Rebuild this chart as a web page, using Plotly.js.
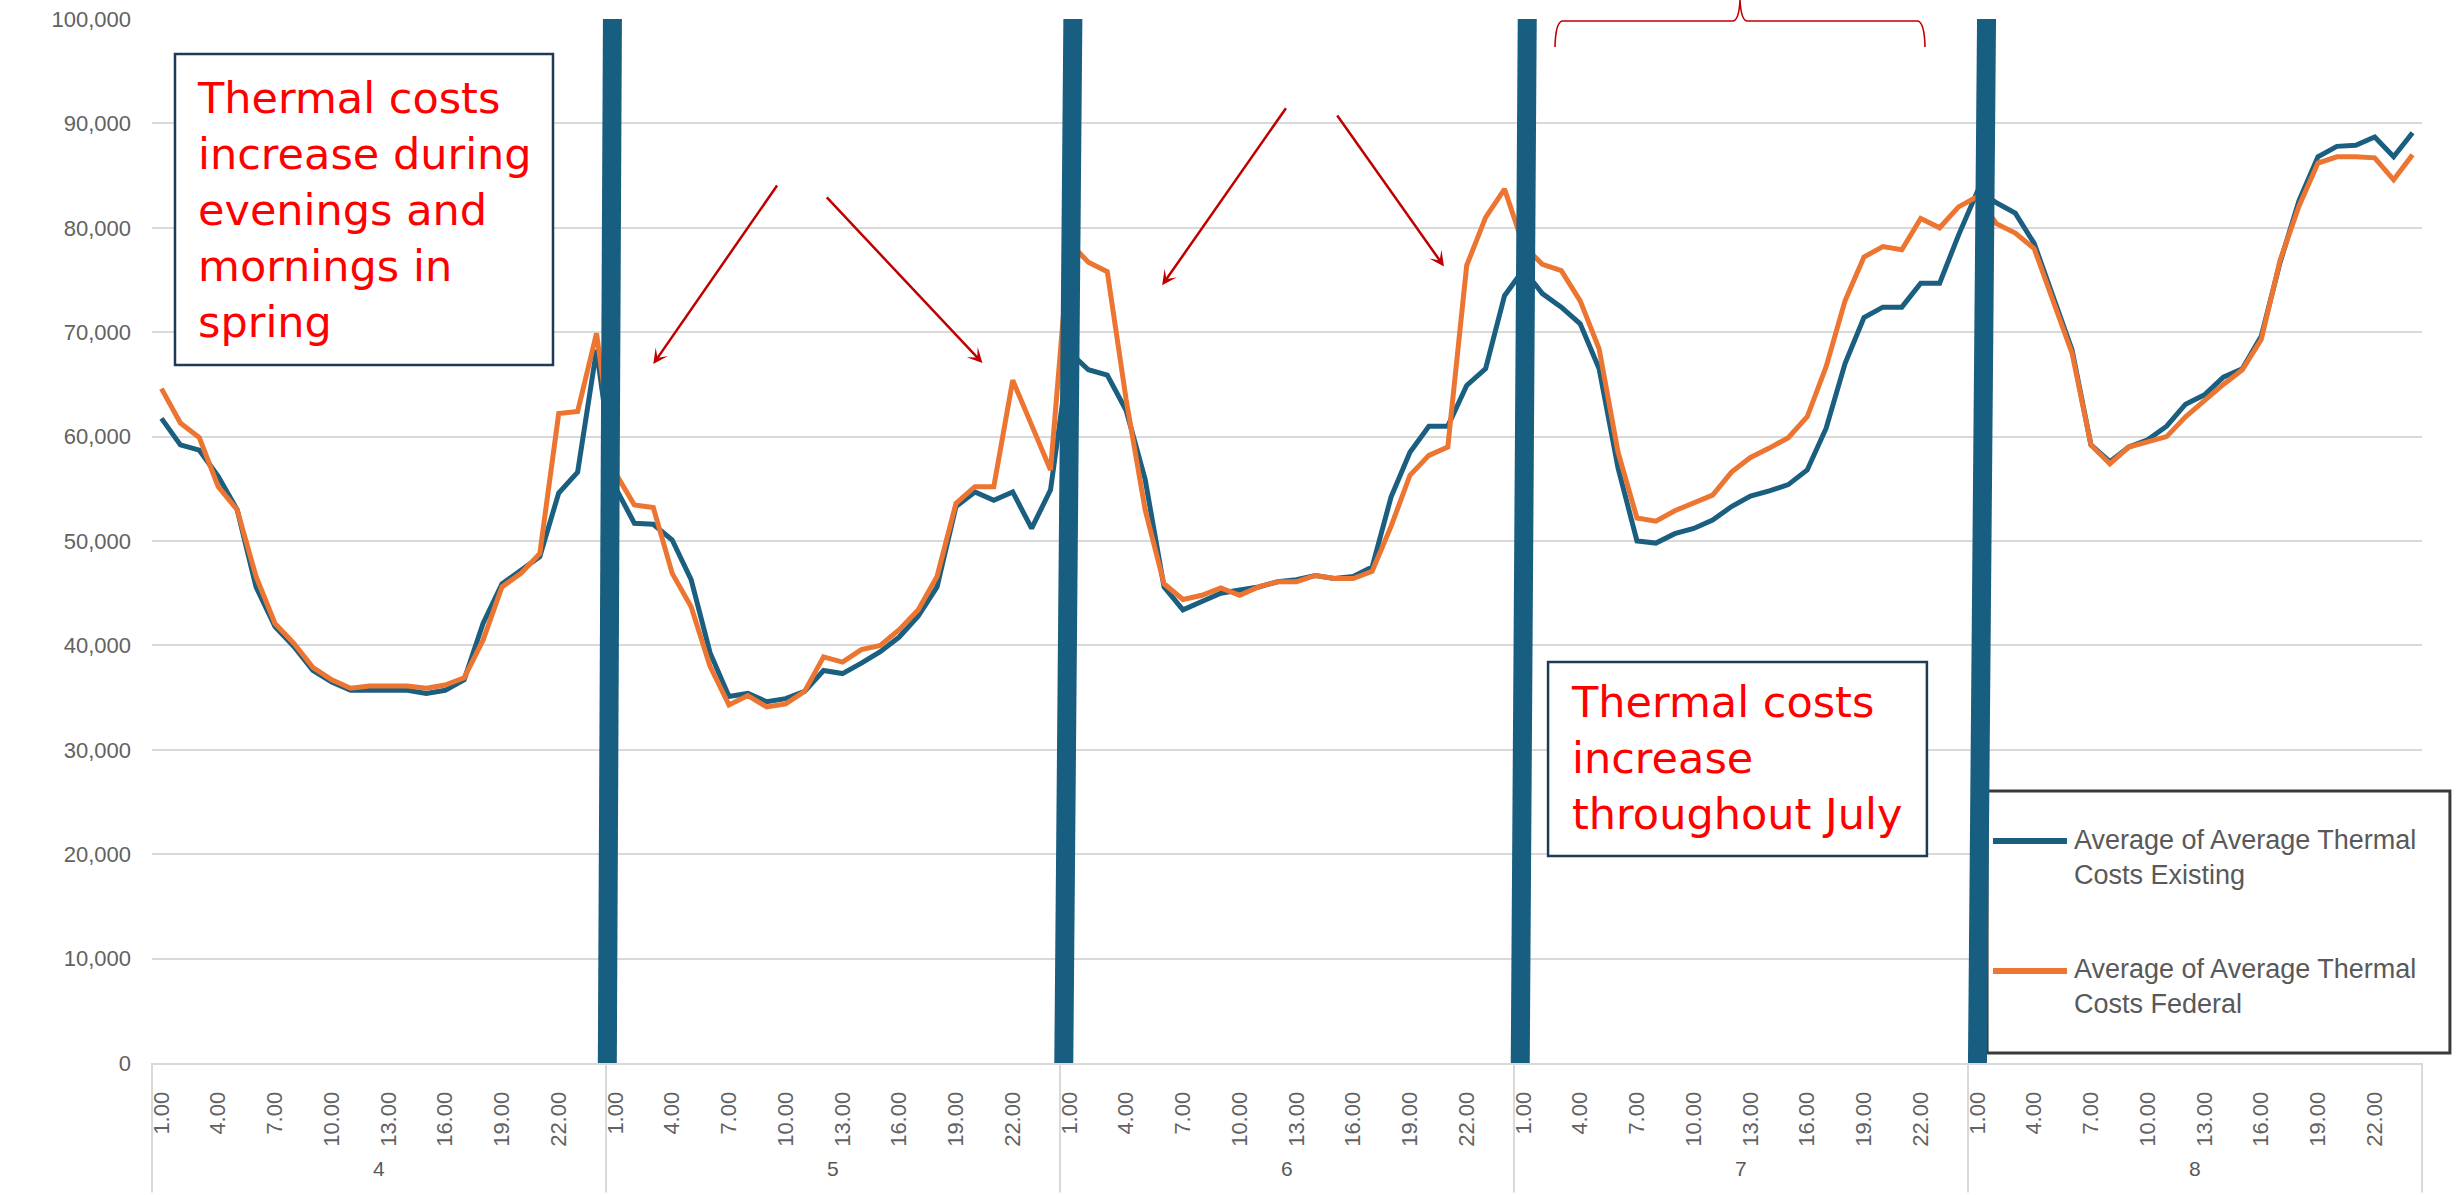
<!DOCTYPE html>
<html>
<head>
<meta charset="utf-8">
<script src="https://cdn.plot.ly/plotly-3.0.1.min.js"></script>
<style>
  html, body { margin: 0; padding: 0; background: #ffffff; }
  #chart { width: 2458px; height: 1195px; }
</style>
</head>
<body>
<div id="chart"></div>
<script>
// Outer level of the category axis (month) and inner level (hour of day)
const months = ['4', '5', '6', '7', '8'];
const hours = ['1.00', '2.00', '3.00', '4.00', '5.00', '6.00', '7.00', '8.00',
  '9.00', '10.00', '11.00', '12.00', '13.00', '14.00', '15.00', '16.00',
  '17.00', '18.00', '19.00', '20.00', '21.00', '22.00', '23.00', '24.00'];
const labelledHours = ['1.00', '4.00', '7.00', '10.00', '13.00', '16.00', '19.00', '22.00'];

// Average of Average Thermal Costs Existing, by month
const existing4 = [61750, 59200, 58700, 56200, 53000, 45600, 41800, 39900, 37600, 36500, 35700, 35700,
  35700, 35700, 35400, 35700, 36700, 42100, 45900, 47200, 48500, 54600, 56600, 68300];
const existing5 = [55100, 51700, 51600, 50100, 46300, 39300, 35100, 35400, 34600, 34900, 35600, 37600,
  37300, 38300, 39400, 40800, 42800, 45600, 53300, 54700, 53900, 54700, 51200, 54900];
const existing6 = [68100, 66400, 65900, 62500, 55900, 45600, 43400, 44200, 45000, 45300, 45600, 46100,
  46300, 46700, 46400, 46600, 47500, 54200, 58500, 61000, 61000, 64900, 66500, 73500];
const existing7 = [76000, 73700, 72400, 70800, 66500, 57000, 50000, 49800, 50700, 51200, 52000, 53300,
  54300, 54800, 55400, 56800, 60800, 67000, 71400, 72400, 72400, 74700, 74700, 79300];
const existing8 = [83500, 82400, 81400, 78500, 73400, 68300, 59200, 57600, 59000, 59700, 61000, 63100,
  64000, 65700, 66500, 69600, 76700, 82600, 86800, 87800, 87900, 88700, 86800, 89100];

// Average of Average Thermal Costs Federal, by month
const federal4 = [64600, 61300, 59900, 55200, 53000, 46600, 42100, 40200, 37900, 36700, 35900, 36100,
  36100, 36100, 35900, 36200, 36900, 40500, 45600, 46900, 48800, 62200, 62400, 69900];
const federal5 = [56500, 53450, 53200, 46900, 43700, 38000, 34300, 35200, 34100, 34400, 35600, 38900,
  38400, 39600, 40000, 41500, 43400, 46600, 53600, 55200, 55200, 65400, 61100, 56800];
const federal6 = [78600, 76700, 75800, 63500, 53000, 45900, 44400, 44800, 45500, 44800, 45600, 46100,
  46100, 46700, 46400, 46400, 47100, 51400, 56300, 58200, 59000, 76400, 81000, 83700];
const federal7 = [78300, 76500, 75900, 73000, 68400, 58500, 52200, 51900, 52900, 53600, 54400, 56600,
  58000, 58900, 59900, 61900, 66700, 73000, 77200, 78200, 77900, 80900, 80000, 82000];
const federal8 = [83000, 80400, 79500, 78000, 73100, 68000, 59200, 57400, 59000, 59500, 60000, 61900,
  63500, 65000, 66400, 69300, 76900, 82100, 86200, 86800, 86800, 86700, 84600, 87000];

const seriesNames = ['Average of Average Thermal Costs Existing', 'Average of Average Thermal Costs Federal'];
const seriesColors = ['#1a5e80', '#ec7532'];
const dividerColor = '#185e80';

const existingByMonth = [existing4, existing5, existing6, existing7, existing8];
const federalByMonth = [federal4, federal5, federal6, federal7, federal8];

// Category keys "month|hour" in chart order
const xCats = [];
months.forEach(m => hours.forEach(h => xCats.push(m + '|' + h)));
const existingAll = [].concat(...existingByMonth);
const federalAll = [].concat(...federalByMonth);

const tickvals = [];
const ticktext = [];
months.forEach(m => labelledHours.forEach(h => { tickvals.push(m + '|' + h); ticktext.push(h); }));

const axisFont = { family: 'Liberation Sans, Arial, sans-serif', size: 22, color: '#626262' };
const monthFont = { family: 'Liberation Sans, Arial, sans-serif', size: 21, color: '#595959' };
const noteFont = { family: 'DejaVu Sans, Verdana, sans-serif', size: 43, color: '#ff0000' };
const legendFont = { family: 'Liberation Sans Narrow, Liberation Sans, Arial, sans-serif', size: 27, color: '#595959' };
const arrowRed = '#c00000';

const traces = [
  { x: xCats, y: existingAll, name: seriesNames[0], type: 'scatter', mode: 'lines',
    line: { color: seriesColors[0], width: 5 }, showlegend: false },
  { x: xCats, y: federalAll, name: seriesNames[1], type: 'scatter', mode: 'lines',
    line: { color: seriesColors[1], width: 5 }, showlegend: false }
];

const perMonth = hours.length;
const shapes = [];
const annotations = [];

// Month group separators under the hour labels
for (let k = 0; k <= months.length; k++) {
  shapes.push({ type: 'line', xref: 'paper', yref: 'paper', x0: k / months.length, x1: k / months.length,
    y0: 0, y1: -0.124, line: { color: '#d9d9d9', width: 2 }, layer: 'below' });
}

// Month labels
months.forEach((m, k) => {
  annotations.push({ x: k * perMonth + (perMonth - 1) / 2, xref: 'x', y: -0.101, yref: 'paper',
    text: m, showarrow: false, font: monthFont, xanchor: 'center', yanchor: 'middle' });
});

// Custom legend frame and entries
shapes.push({ type: 'rect', xref: 'paper', yref: 'paper', x0: 0.8084, x1: 1.0123, y0: 0.0096, y1: 0.2605,
  line: { color: '#3a3a3a', width: 3 }, fillcolor: '#ffffff', layer: 'above' });
[[0.2126, 0.1973], [0.0881, 0.0728]].forEach(([ly, ty], i) => {
  shapes.push({ type: 'line', xref: 'paper', yref: 'paper', x0: 0.8110, x1: 0.8436, y0: ly, y1: ly,
    line: { color: seriesColors[i], width: 6 }, layer: 'above' });
  const words = seriesNames[i].split(' ');
  annotations.push({ xref: 'paper', yref: 'paper', x: 0.8458, y: ty, xanchor: 'left', yanchor: 'middle',
    align: 'left', showarrow: false, font: legendFont,
    text: words.slice(0, 4).join(' ') + '<br>' + words.slice(4).join(' ') });
});

// Note boxes
shapes.push({ type: 'rect', xref: 'paper', yref: 'paper', x0: 0.01013, x1: 0.17665, y0: 0.6686, y1: 0.9665,
  line: { color: '#1f3a55', width: 2.5 }, fillcolor: '#ffffff', layer: 'above' });
annotations.push({ xref: 'paper', yref: 'paper', x: 0.01894, y: 0.8175, xanchor: 'left', yanchor: 'middle',
  align: 'left', showarrow: false, font: noteFont,
  text: 'Thermal costs<br>increase during<br>evenings and<br>mornings in<br>spring' });

shapes.push({ type: 'rect', xref: 'paper', yref: 'paper', x0: 0.6150, x1: 0.7819, y0: 0.1983, y1: 0.3841,
  line: { color: '#1f3a55', width: 2.5 }, fillcolor: '#ffffff', layer: 'above' });
annotations.push({ xref: 'paper', yref: 'paper', x: 0.6242, y: 0.2917, xanchor: 'left', yanchor: 'middle',
  align: 'left', showarrow: false, font: noteFont,
  text: 'Thermal costs<br>increase<br>throughout July' });

// Thick separators between months (slightly leaning)
const leanBottom = [0.07, 0.2, 0.33, 0.5];
const leanTop = [0.34, 0.68, 0.7, 0.98];
for (let k = 1; k < months.length; k++) {
  const edge = k * perMonth - 0.5;
  shapes.push({ type: 'line', xref: 'x', yref: 'y', x0: edge + leanBottom[k - 1], x1: edge + leanTop[k - 1],
    y0: 0, y1: 100000, line: { color: dividerColor, width: 19 }, layer: 'above' });
}

// Brace over July
shapes.push({ type: 'path', xref: 'paper', yref: 'paper', layer: 'above',
  line: { color: arrowRed, width: 1.6 },
  path: 'M0.61806,0.97318 Q0.61828,0.99617 0.62115,0.99808 L0.69648,0.99808 ' +
        'Q0.69912,0.99900 0.69956,1.0182 Q0.70000,0.99900 0.70264,0.99808 ' +
        'L0.77797,0.99808 Q0.78084,0.99617 0.78106,0.97318' });

// Pointer arrows
const arrows = [
  { x: 26.0, y: 66950, ax: 32.6, ay: 84200 },
  { x: 43.4, y: 67050, ax: 35.1, ay: 83050 },
  { x: 52.9, y: 74500, ax: 59.5, ay: 91600 },
  { x: 67.8, y: 76300, ax: 62.1, ay: 90900 }
];
arrows.forEach(a => annotations.push({
  x: a.x, y: a.y, xref: 'x', yref: 'y', ax: a.ax, ay: a.ay, axref: 'x', ayref: 'y',
  text: '', showarrow: true, arrowhead: 3, arrowsize: 1, arrowwidth: 2.5, arrowcolor: arrowRed,
  standoff: 0, startstandoff: 0, font: { size: 1 }
}));

const layout = {
  width: 2458, height: 1195,
  margin: { l: 152, r: 36, t: 19, b: 132 },
  paper_bgcolor: '#ffffff', plot_bgcolor: '#ffffff',
  showlegend: false,
  xaxis: {
    type: 'category', categoryorder: 'array', categoryarray: xCats, range: [-0.5, xCats.length - 0.5],
    tickmode: 'array', tickvals: tickvals, ticktext: ticktext, tickangle: -90,
    showgrid: false, zeroline: false, showline: true, linecolor: '#d9d9d9', linewidth: 2,
    ticks: '', ticklabelstandoff: 18, tickfont: axisFont, fixedrange: true
  },
  yaxis: {
    range: [0, 100000], tick0: 0, dtick: 10000, tickformat: ',',
    showgrid: true, gridcolor: '#d9d9d9', gridwidth: 2, zeroline: false, showline: false,
    ticks: '', ticklabelstandoff: 20, tickfont: axisFont, fixedrange: true
  },
  shapes: shapes,
  annotations: annotations
};

Plotly.newPlot('chart', traces, layout, { displayModeBar: false, staticPlot: true });
</script>
</body>
</html>
